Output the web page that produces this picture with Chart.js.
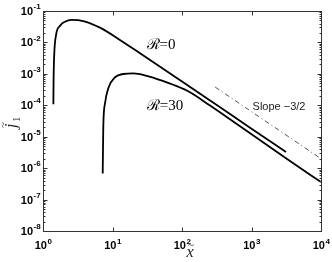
<!DOCTYPE html>
<html>
<head>
<meta charset="utf-8">
<script src="https://cdn.jsdelivr.net/npm/chart.js@4"></script>
<style>
  html, body { margin: 0; padding: 0; background: #fff; }
</style>
</head>
<body>
<canvas id="chart" width="332" height="262"></canvas>
<script>
// curve R=0
const r0X = [1.41, 1.42, 1.45, 1.54, 1.76, 2.07, 2.59, 3.8, 6.6, 12.8, 24.9, 100, 1000, 3135];
const r0Y = [1.07e-4, 6.3e-4, 4.0e-3, 1.72e-2, 3.4e-2, 4.57e-2, 5.2e-2, 4.8e-2, 2.95e-2, 1.2e-2, 4.5e-3, 5.7e-4, 1.8e-5, 3.24e-6];

// curve R=30
const r30X = [7.23, 7.37, 7.8, 8.7, 10.9, 14.3, 20, 31, 54, 75, 130, 250, 490, 3135, 10000];
const r30Y = [6.8e-7, 2.07e-5, 1.15e-4, 3.5e-4, 7.8e-4, 9.9e-4, 1.04e-3, 8.7e-4, 5.9e-4, 4.5e-4, 2.6e-4, 1.0e-4, 3.6e-5, 2.05e-6, 3.6e-7];

// slope -3/2 guide
const slopeX = [300, 10000];
const slopeY = [3.8e-4, 2.0e-6];

// tick labels (powers of ten)
const xTickExps = [0, 1, 2, 3, 4];
const yTickExps = [-8, -7, -6, -5, -4, -3, -2, -1];

// text annotations, placed in data units
const notes = [
    { text: '\u211B=0', x: 50, y: 8.3e-3, font: '15px "Liberation Serif", "DejaVu Serif", serif' },
    { text: '\u211B=30', x: 57, y: 9.4e-5, font: '15px "Liberation Serif", "DejaVu Serif", serif' },
    { text: 'Slope \u22123/2', x: 2490, y: 8.8e-5, font: '11px "Liberation Sans", Arial, sans-serif' }
];

function pts(xs, ys) {
    return xs.map((v, i) => ({ x: v, y: ys[i] }));
}

const decorations = {
    id: 'decorations',
    afterDraw(chart) {
        const ctx = chart.ctx;
        const a = chart.chartArea;
        const x = chart.scales.x;
        const y = chart.scales.y;
        const L = Math.round(a.left) + 0.5, R = Math.round(a.right) + 0.5;
        const T = Math.round(a.top) + 0.5, B = Math.round(a.bottom) + 0.5;

        ctx.save();
        ctx.strokeStyle = '#333';
        ctx.lineWidth = 1;
        ctx.strokeRect(L, T, R - L, B - T);

        function seg(x1, y1, x2, y2) {
            ctx.beginPath();
            ctx.moveTo(x1, y1);
            ctx.lineTo(x2, y2);
            ctx.stroke();
        }

        // y ticks, inside, on both sides
        const yLo = yTickExps[0], yHi = yTickExps[yTickExps.length - 1];
        for (let e = yLo; e <= yHi; e++) {
            for (let m = 1; m < 10; m++) {
                if (e === yHi && m > 1) break;
                const py = Math.round(y.getPixelForValue(m * Math.pow(10, e))) + 0.5;
                const len = m === 1 ? 4 : 2;
                seg(L, py, L + len, py);
                seg(R, py, R - len, py);
            }
        }
        // x ticks, major only
        xTickExps.forEach(e => {
            const px = Math.round(x.getPixelForValue(Math.pow(10, e))) + 0.5;
            seg(px, B, px, B - 4);
            seg(px, T, px, T + 4);
        });

        // tick labels
        ctx.fillStyle = '#000';
        ctx.textBaseline = 'middle';
        const big = 'bold 11px "Liberation Sans", Arial, sans-serif';
        const small = 'bold 8px "Liberation Sans", Arial, sans-serif';
        yTickExps.forEach(e => {
            const py = y.getPixelForValue(Math.pow(10, e));
            ctx.font = big;
            ctx.textAlign = 'right';
            ctx.fillText('10', 33, py + 1);
            ctx.font = small;
            ctx.textAlign = 'left';
            ctx.fillText(String(e), 33.5, py - 4);
        });
        xTickExps.forEach(e => {
            const px = x.getPixelForValue(Math.pow(10, e));
            ctx.font = big;
            const w1 = ctx.measureText('10').width;
            ctx.font = small;
            const w2 = ctx.measureText(String(e)).width;
            const start = px - (w1 + w2) / 2;
            ctx.font = big;
            ctx.textAlign = 'left';
            ctx.fillText('10', start, 246);
            ctx.font = small;
            ctx.fillText(String(e), start + w1 + 0.5, 241.5);
        });

        // notes
        ctx.textAlign = 'center';
        notes.forEach(n => {
            ctx.font = n.font;
            ctx.fillStyle = n.text.startsWith('Slope') ? '#222' : '#000';
            ctx.fillText(n.text, x.getPixelForValue(n.x), y.getPixelForValue(n.y));
        });

        // x axis title: x with tilde
        ctx.textBaseline = 'alphabetic';
        ctx.font = 'italic 16px "Liberation Serif", serif';
        ctx.fillText('x', 190, 257);
        ctx.font = '11px "Liberation Serif", serif';
        ctx.fillText('~', 191, 248);

        // y axis title: j with tilde, subscript 1
        ctx.translate(12, 121);
        ctx.rotate(-Math.PI / 2);
        ctx.font = 'italic 16px "Liberation Serif", serif';
        ctx.textAlign = 'left';
        ctx.fillText('j', -7, 4);
        ctx.font = '11px "Liberation Serif", serif';
        ctx.fillText('~', -7, -6);
        ctx.fillText('1', -1, 8);
        ctx.restore();
    }
};

const curve = (data, extra) => Object.assign({
    data: data,
    borderColor: '#000',
    borderWidth: 1.8,
    pointRadius: 0,
    showLine: true,
    fill: false,
    cubicInterpolationMode: 'monotone'
}, extra || {});

new Chart(document.getElementById('chart'), {
    type: 'scatter',
    data: {
        datasets: [
            curve(pts(r0X, r0Y)),
            curve(pts(r30X, r30Y)),
            curve(pts(slopeX, slopeY), { borderColor: '#555', borderWidth: 1, borderDash: [5, 3, 1, 3] })
        ]
    },
    options: {
        responsive: false,
        animation: false,
        devicePixelRatio: 1,
        layout: { padding: { top: 11, right: 11, left: 0, bottom: 0 } },
        plugins: { legend: { display: false }, tooltip: { enabled: false } },
        scales: {
            x: {
                type: 'logarithmic', min: 1, max: 1e4,
                grid: { display: false }, border: { display: false },
                ticks: { display: false },
                afterFit(s) { s.height = 31; }
            },
            y: {
                type: 'logarithmic', min: 1e-8, max: 1e-1,
                grid: { display: false }, border: { display: false },
                ticks: { display: false },
                afterFit(s) { s.width = 43; }
            }
        }
    },
    plugins: [decorations]
});
</script>
</body>
</html>
